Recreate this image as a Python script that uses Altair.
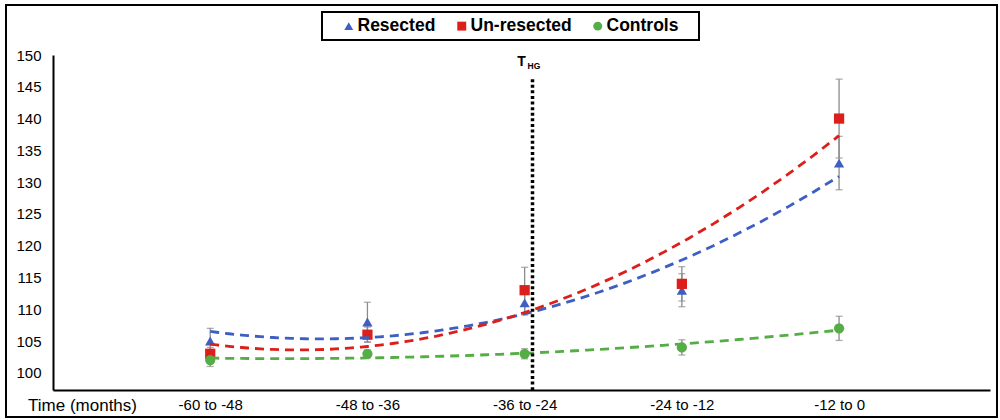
import json

import altair as alt
import pandas as pd

# ---- data ---------------------------------------------------------------
periods = ["-60 to -48", "-48 to -36", "-36 to -24", "-24 to -12", "-12 to 0"]
groups = ["Resected", "Un-resected", "Controls"]

resected = [105, 108, 111, 113, 133]
resected_err = [2.0, 3.1, 1.9, 2.6, 4.2]

unresected = [103, 106, 113, 114, 140]
unresected_err = [1.0, 1.2, 3.6, 2.7, 6.2]

controls = [102, 103, 103, 104, 107]
controls_err = [1.0, 0.6, 0.8, 1.2, 1.9]

y_ticks = [100, 105, 110, 115, 120, 125, 130, 135, 140, 145, 150]
thg_position = 3.05  # time of hemiglossectomy marker, in period units

# ---- styling ------------------------------------------------------------
FONT = "Liberation Sans"
colors = ["#3D5FC4", "#DC1F1A", "#55AD45"]
shapes = ["triangle-up", "square", "circle"]
ERR_GREY = "#8C8C8C"

rows = []
for g, vals, errs in zip(groups, [resected, unresected, controls],
                         [resected_err, unresected_err, controls_err]):
    for i, (v, e) in enumerate(zip(vals, errs), start=1):
        rows.append({"group": g, "period": i, "value": v, "lo": v - e, "hi": v + e})
df = pd.DataFrame(rows)

Y_MIN, Y_MAX = 97.3, 150
x_scale = alt.Scale(domain=[0, 5.96], nice=False, zero=False)
y_scale = alt.Scale(domain=[Y_MIN, Y_MAX], nice=False, zero=False)
color_scale = alt.Scale(domain=groups, range=colors)
shape_scale = alt.Scale(domain=groups, range=shapes)

label_expr = json.dumps([""] + periods) + "[datum.value]"

x_axis = alt.Axis(
    values=[1, 2, 3, 4, 5], labelExpr=label_expr, title="Time (months)",
    titleX=29, titleY=15, titleAlign="center", titleBaseline="middle",
    titleFontSize=17, titleFontWeight="normal", titleColor="black",
    labelFontSize=15, labelPadding=7, labelColor="black",
    ticks=False, grid=False, domainColor="black", domainWidth=2,
)
y_axis = alt.Axis(
    values=y_ticks, title=None, ticks=False, grid=False,
    labelFontSize=15, labelPadding=12, labelColor="black",
    domainColor="black", domainWidth=2,
)


def xq(field):
    return alt.X(f"{field}:Q", scale=x_scale, axis=x_axis, title="Time (months)")


def yq(field):
    return alt.Y(f"{field}:Q", scale=y_scale, axis=y_axis, title=None)


# last legend entry gets a little trailing room inside the framed box
legend_label = (f"datum.label == '{groups[-1]}' ? "
                "datum.label + '\u00a0\u00a0\u00a0\u200b' : datum.label")
legend = alt.Legend(title=None, orient="none", legendX=269, legendY=-43,
                    direction="horizontal", labelExpr=legend_label)

base = alt.Chart(df)

# error bars: stems and caps
stems = base.mark_rule(color=ERR_GREY, strokeWidth=1.3).encode(
    x=xq("period"), y=yq("lo"), y2="hi:Q",
)
caps_lo = base.mark_tick(orient="horizontal", color=ERR_GREY, size=7, thickness=1.3).encode(
    x=xq("period"), y=yq("lo")
)
caps_hi = base.mark_tick(orient="horizontal", color=ERR_GREY, size=7, thickness=1.3).encode(
    x=xq("period"), y=yq("hi")
)

points = base.mark_point(filled=True, size=105, opacity=1).encode(
    x=xq("period"),
    y=yq("value"),
    color=alt.Color("group:N", scale=color_scale, legend=legend),
    shape=alt.Shape("group:N", scale=shape_scale, legend=legend),
)

# second-order polynomial trend lines
trends = base.transform_regression(
    "period", "value", groupby=["group"], method="poly", order=2
).mark_line(strokeDash=[9, 6], strokeWidth=2.8).encode(
    x=xq("period"),
    y=yq("value"),
    color=alt.Color("group:N", scale=color_scale, legend=None),
    detail="group:N",
)

marker_df = pd.DataFrame({"x": [thg_position], "top": [146.2], "bottom": [Y_MIN], "label_y": [148.3]})
marker = alt.Chart(marker_df)

thg_line = marker.mark_rule(color="black", strokeWidth=3.5, strokeDash=[3, 2.6]).encode(
    x=xq("x"), y=yq("top"), y2="bottom:Q",
)
thg_t = marker.mark_text(text="T", fontSize=14, fontWeight="bold", align="center",
                         baseline="alphabetic", dx=-11, color="black").encode(
    x=xq("x"), y=yq("label_y"),
)
thg_sub = marker.mark_text(text="HG", fontSize=8.5, fontWeight="bold", align="left",
                           baseline="alphabetic", dx=-5, dy=3, color="black").encode(
    x=xq("x"), y=yq("label_y"),
)

# outer frame around the whole figure
frame = alt.Chart(pd.DataFrame({"k": [0]})).mark_rect(
    fillOpacity=0, stroke="black", strokeWidth=2
).encode(
    x=alt.value(6 - 53), x2=alt.value(997 - 53),
    y=alt.value(5 - 55), y2=alt.value(417 - 55),
)

chart = alt.layer(
    stems, caps_lo, caps_hi, points, trends, thg_line, thg_t, thg_sub, frame
).properties(
    width=937, height=335,
    padding={"left": 53, "top": 55, "right": 10, "bottom": 30},
    autosize="none",
    background="white",
).configure_view(
    stroke=None
).configure_axis(
    labelFont=FONT, titleFont=FONT
).configure_text(
    font=FONT
).configure_legend(
    labelFont=FONT, labelFontSize=17.5, labelFontWeight="bold", labelColor="black",
    symbolSize=80, symbolStrokeWidth=0, symbolOpacity=1, symbolOffset=13,
    labelOffset=0, columnPadding=4, padding=5,
    strokeColor="black", strokeWidth=2, fillColor="white",
)

chart.save("out.html", embed_options={"renderer": "svg", "actions": False})
